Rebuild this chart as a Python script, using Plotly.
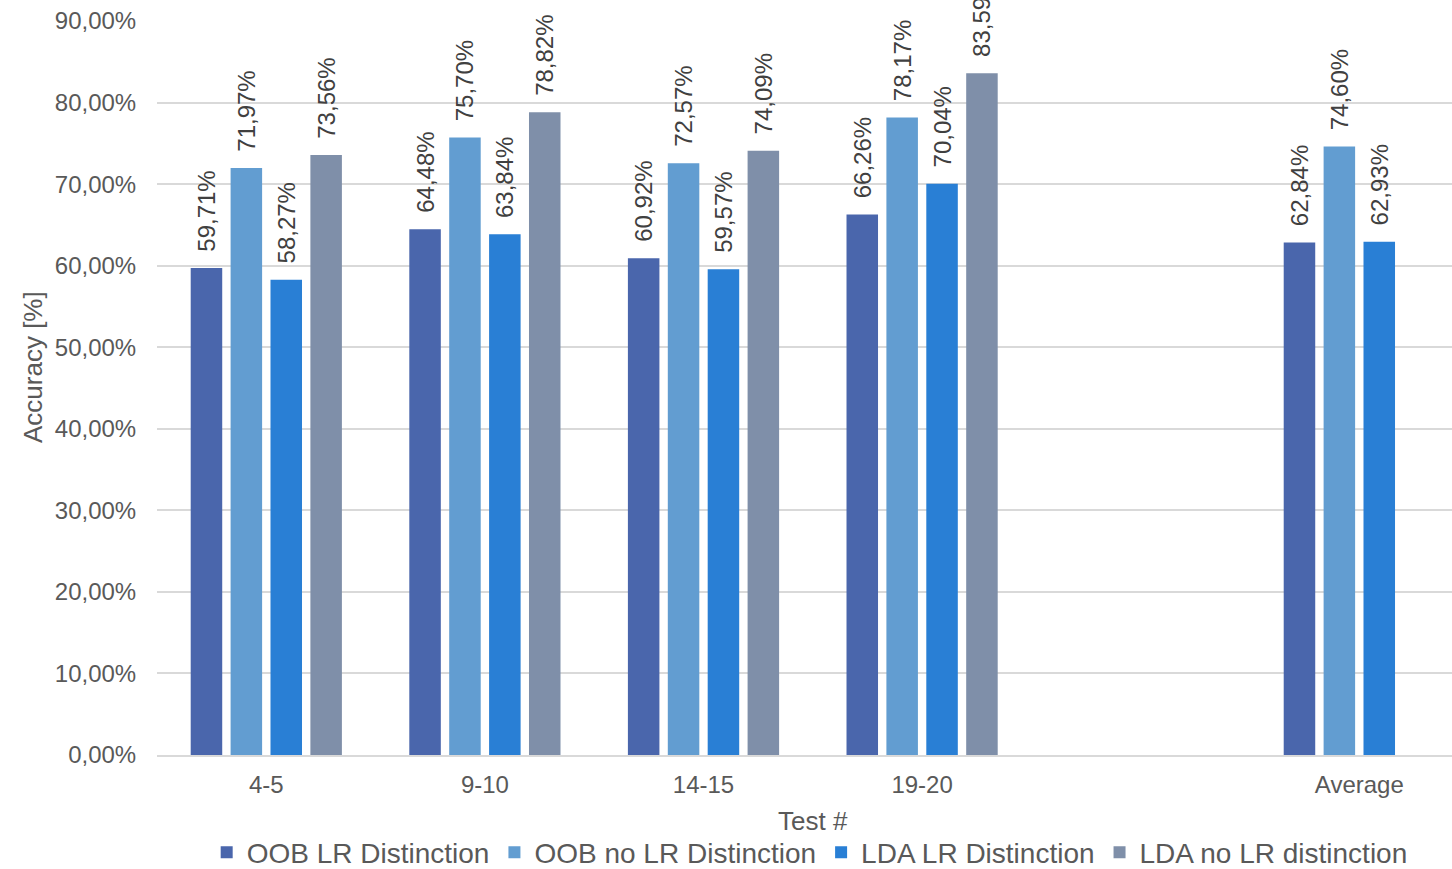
import plotly.graph_objects as go

# Test groups (an empty slot separates the runs from the average)
categories = ["4-5", "9-10", "14-15", "19-20", "", "Average"]

# Accuracy values in percent; None = no bar
oob_lr = [59.71, 64.48, 60.92, 66.26, None, 62.84]
oob_no_lr = [71.97, 75.70, 72.57, 78.17, None, 74.60]
lda_lr = [58.27, 63.84, 59.57, 70.04, None, 62.93]
lda_no_lr = [73.56, 78.82, 74.09, 83.59, None, None]

series_names = ["OOB LR Distinction", "OOB no LR Distinction",
                "LDA LR Distinction", "LDA no LR distinction"]
series_values = [oob_lr, oob_no_lr, lda_lr, lda_no_lr]
series_colors = ["#4A66AC", "#629DD1", "#297FD5", "#7F8FA9"]

y_ticks = [0, 10, 20, 30, 40, 50, 60, 70, 80, 90]

FONT = "Liberation Sans, Arial, sans-serif"
GRAY = "#595959"
GRID = "#D9D9D9"

x_pos = list(range(len(categories)))


def pct(v):
    return f"{v:.2f}".replace(".", ",") + "%"


def label(v):
    if v is None:
        return ""
    return "\u00a0\u00a0" + pct(v)


fig = go.Figure()
for name, vals, col in zip(series_names, series_values, series_colors):
    fig.add_trace(go.Bar(
        x=x_pos, y=vals, name=name,
        marker=dict(color=col, line=dict(width=0)),
        text=[label(v) for v in vals],
        textposition="outside", textangle=-90,
        textfont=dict(family=FONT, size=24, color="#404040"),
        constraintext="none", cliponaxis=False,
    ))

fig.update_layout(
    width=1452, height=869,
    margin=dict(l=157, r=0, t=21, b=114, autoexpand=False),
    paper_bgcolor="white", plot_bgcolor="white",
    barmode="group", bargap=0.27, bargroupgap=0.21,
    font=dict(family=FONT, color=GRAY),
    showlegend=True,
    legend=dict(orientation="h", x=0.504, xanchor="center",
                y=-0.133, yanchor="middle",
                font=dict(family=FONT, size=28, color=GRAY),
                traceorder="normal"),
    xaxis=dict(
        range=[-0.5, 5.424],
        tickmode="array", tickvals=[0, 1, 2, 3, 5],
        ticktext=[categories[i] for i in [0, 1, 2, 3, 5]],
        tickfont=dict(family=FONT, size=24, color=GRAY),
        ticks="outside", ticklen=7, tickcolor="rgba(0,0,0,0)",
        showgrid=False, zeroline=False,
        showline=True, linecolor=GRID, linewidth=2,
    ),
    yaxis=dict(
        range=[0, 90],
        tickmode="array", tickvals=y_ticks,
        ticktext=[pct(v) for v in y_ticks],
        tickfont=dict(family=FONT, size=24, color=GRAY),
        ticks="outside", ticklen=15, tickcolor="rgba(0,0,0,0)",
        showgrid=True, gridcolor=GRID, gridwidth=2,
        zeroline=False, showline=False,
    ),
    annotations=[
        dict(text="Accuracy [%]", xref="paper", yref="paper",
             x=-(157 - 33) / 1295, y=(755 - 367) / 734,
             xanchor="center", yanchor="middle", textangle=-90,
             showarrow=False, font=dict(family=FONT, size=26, color=GRAY)),
        dict(text="Test #", xref="paper", yref="paper",
             x=(813 - 157) / 1295, y=-(821 - 755) / 734,
             xanchor="center", yanchor="middle",
             showarrow=False, font=dict(family=FONT, size=26, color=GRAY)),
    ],
)

fig.write_html("out.html")
